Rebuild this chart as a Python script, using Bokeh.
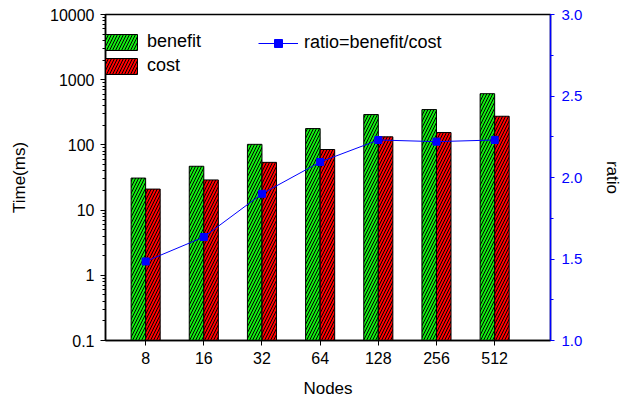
from bokeh.plotting import figure
from bokeh.models import (Range1d, LinearAxis, FixedTicker, CustomJSTickFormatter,
                          Legend, LegendItem, ColumnDataSource, NumeralTickFormatter,
                          LinearScale)
from bokeh.embed import file_html
from bokeh.resources import INLINE

nodes = ["8", "16", "32", "64", "128", "256", "512"]
benefit = [31, 47, 102, 178, 292, 348, 610]
cost = [21, 29, 54, 85, 133, 155, 275]
ratio = [1.485, 1.635, 1.90, 2.095, 2.23, 2.22, 2.23]
left_ticks = [0.1, 1, 10, 100, 1000, 10000]
right_ticks = [1.0, 1.5, 2.0, 2.5, 3.0]

FONT = "Liberation Sans"
xs = list(range(len(nodes)))
bw = 0.25

src = ColumnDataSource(dict(
    xb=[x - bw / 2 for x in xs], xc=[x + bw / 2 for x in xs], x=xs,
    benefit=benefit, cost=cost, ratio=ratio,
))

W, H = 630, 400
p = figure(width=W, height=H, output_backend="svg", toolbar_location=None,
           y_axis_type="log", x_range=Range1d(-0.69, 6.96), y_range=Range1d(0.1, 10000),
           min_border_left=105, min_border_right=W - 550, min_border_top=14,
           min_border_bottom=H - 341)
p.grid.visible = False
p.outline_line_color = "black"
p.outline_line_width = 1.5
p.background_fill_color = "white"

p.extra_y_ranges = {"ratio": Range1d(1.0, 3.0)}
p.extra_y_scales = {"ratio": LinearScale()}

rb = p.vbar(x="xb", top="benefit", bottom=0.1, width=bw, source=src,
            fill_color="#11ee11", line_color="black", line_width=1,
            hatch_pattern="/", hatch_color="black", hatch_scale=6, hatch_weight=1)
rc = p.vbar(x="xc", top="cost", bottom=0.1, width=bw, source=src,
            fill_color="#ff0000", line_color="black", line_width=1,
            hatch_pattern="/", hatch_color="black", hatch_scale=6, hatch_weight=1)
rl = p.line(x="x", y="ratio", source=src, y_range_name="ratio", line_color="blue", line_width=1)
rs = p.scatter(x="x", y="ratio", source=src, y_range_name="ratio", marker="square",
               size=7, fill_color="blue", line_color="blue")

# x axis
xa = p.xaxis[0]
xa.ticker = FixedTicker(ticks=xs)
xa.major_label_overrides = {i: n for i, n in enumerate(nodes)}
xa.axis_label = "Nodes"

# left axis
ya = p.yaxis[0]
ya.ticker = FixedTicker(ticks=left_ticks,
                        minor_ticks=[k * 10 ** e for e in range(-1, 4) for k in range(2, 10)])
ya.formatter = CustomJSTickFormatter(code="return String(Number(tick.toPrecision(6)));")
ya.axis_label = "Time(ms)"

for ax in (xa, ya):
    ax.axis_line_color = "black"
    ax.axis_line_width = 1.5
    ax.major_tick_line_color = "black"
    ax.minor_tick_line_color = "black"
    ax.major_tick_in = 0
    ax.major_tick_out = 5
    ax.minor_tick_in = 0
    ax.minor_tick_out = 3
    ax.major_label_text_font = FONT
    ax.major_label_text_font_size = "16px"
    ax.major_label_text_color = "black"
    ax.major_label_standoff = 6
    ax.axis_label_text_font = FONT
    ax.axis_label_text_font_size = "17px"
    ax.axis_label_text_font_style = "normal"
    ax.axis_label_text_color = "black"
xa.minor_tick_line_color = None
xa.axis_label_standoff = 12
ya.axis_label_standoff = 18

# right axis
ra = LinearAxis(y_range_name="ratio", axis_label="ratio",
                ticker=FixedTicker(ticks=right_ticks, minor_ticks=[1.25, 1.75, 2.25, 2.75]))
ra.formatter = NumeralTickFormatter(format="0.0")
ra.axis_line_color = "blue"
ra.axis_line_width = 1.5
ra.major_tick_line_color = "blue"
ra.minor_tick_line_color = "blue"
ra.major_tick_in = 0
ra.major_tick_out = 4
ra.minor_tick_in = 0
ra.minor_tick_out = 3
ra.major_label_standoff = 7
ra.major_label_text_color = "blue"
ra.major_label_text_font = FONT
ra.major_label_text_font_size = "15px"
ra.axis_label_text_font = FONT
ra.axis_label_text_font_size = "17px"
ra.axis_label_text_font_style = "normal"
ra.axis_label_text_color = "black"
ra.axis_label_standoff = 18
p.add_layout(ra, "right")

def style_leg(leg):
    leg.border_line_color = None
    leg.background_fill_alpha = 0
    leg.padding = 0
    leg.margin = 0
    leg.spacing = 3
    leg.glyph_width = 40
    leg.glyph_height = 20
    leg.label_height = 20
    leg.label_standoff = 6
    leg.label_text_font = FONT
    leg.label_text_font_size = "18px"
    leg.label_text_color = "black"

leg1 = Legend(items=[LegendItem(label="benefit", renderers=[rb]),
                     LegendItem(label="cost", renderers=[rc])],
              location=(-4, 264))
style_leg(leg1)
leg2 = Legend(items=[LegendItem(label="ratio=benefit/cost", renderers=[rl, rs])],
              location=(153, 287))
style_leg(leg2)
p.add_layout(leg1, "center")
p.add_layout(leg2, "center")

open("out.html", "w").write(file_html(p, INLINE))
